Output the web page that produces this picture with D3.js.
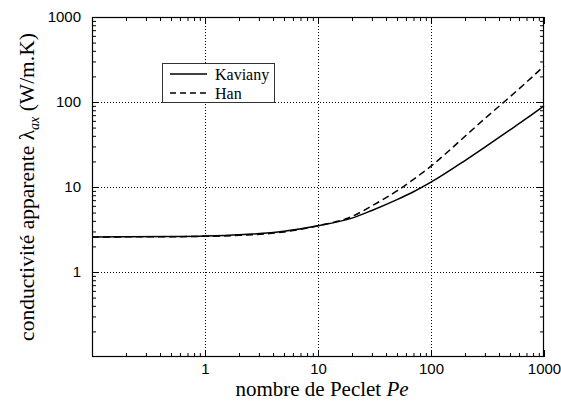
<!DOCTYPE html>
<html><head><meta charset="utf-8">
<script src="https://cdn.jsdelivr.net/npm/d3@7"></script>
<style>body{margin:0;background:#fff}svg{display:block}</style>
</head><body><svg id="c" width="561" height="403"></svg>
<script>
const peclet   = [0.1, 0.2, 0.5, 1, 2, 5, 10, 20, 30, 50, 70, 100, 200, 300, 500, 700, 1000];
const kaviany  = [2.58, 2.59, 2.61, 2.65, 2.74, 3.02, 3.5, 4.3, 5.3, 7.1, 8.8, 11.4, 20.5, 29.5, 47, 64, 90];
const han      = [2.58, 2.59, 2.60, 2.63, 2.70, 2.96, 3.5, 4.5, 6.0, 9.0, 12.3, 17.6, 39.5, 64, 115, 171, 265];
const majorTicks = [1, 10, 100, 1000];
const xLabel = "nombre de Peclet ";
const xLabelItalic = "Pe";
const legendNames = ["Kaviany", "Han"];

const svg = d3.select("#c");
const L = 92, R = 544, T = 17, B = 357;
const x = d3.scaleLog().domain([0.1, 1000]).range([L, R]);
const y = d3.scaleLog().domain([0.1, 1000]).range([B, T]);

const minors = [];
for (let d = 0.1; d < 1000; d *= 10) for (let k = 2; k <= 9; k++) minors.push(+(d * k).toPrecision(3));

// grid
const g = svg.append("g");
[1, 10, 100].forEach(v => {
  g.append("line").attr("x1", Math.round(x(v)) + 0.5).attr("x2", Math.round(x(v)) + 0.5).attr("y1", T).attr("y2", B)
    .attr("stroke", "#000").attr("stroke-width", 1).attr("stroke-dasharray", "1,2");
  g.append("line").attr("y1", Math.round(y(v)) + 0.5).attr("y2", Math.round(y(v)) + 0.5).attr("x1", L).attr("x2", R)
    .attr("stroke", "#000").attr("stroke-width", 1).attr("stroke-dasharray", "1,2");
});

function styleAxis(sel) {
  sel.select(".domain").remove();
  sel.selectAll("line").attr("stroke", "#000").attr("stroke-width", 1);
  sel.selectAll("text").attr("font-family", "Liberation Sans, Arial, sans-serif").attr("font-size", 15).attr("fill", "#000");
}
// bottom
svg.append("g").attr("transform", `translate(0,${B})`)
  .call(d3.axisBottom(x).tickValues(majorTicks).tickSizeInner(-7).tickSizeOuter(0).tickPadding(6.5).tickFormat(d3.format("d")))
  .call(styleAxis);
svg.append("g").attr("transform", `translate(0,${B})`)
  .call(d3.axisBottom(x).tickValues(minors).tickSizeInner(-4).tickSizeOuter(0).tickFormat(""))
  .call(styleAxis);
// top
svg.append("g").attr("transform", `translate(0,${T})`)
  .call(d3.axisTop(x).tickValues(majorTicks).tickSizeInner(-7).tickSizeOuter(0).tickFormat(""))
  .call(styleAxis);
svg.append("g").attr("transform", `translate(0,${T})`)
  .call(d3.axisTop(x).tickValues(minors).tickSizeInner(-4).tickSizeOuter(0).tickFormat(""))
  .call(styleAxis);
// left
svg.append("g").attr("transform", `translate(${L},0)`)
  .call(d3.axisLeft(y).tickValues(majorTicks).tickSizeInner(-7).tickSizeOuter(0).tickPadding(11).tickFormat(d3.format("d")))
  .call(styleAxis);
svg.append("g").attr("transform", `translate(${L},0)`)
  .call(d3.axisLeft(y).tickValues(minors).tickSizeInner(-4).tickSizeOuter(0).tickFormat(""))
  .call(styleAxis);
// right
svg.append("g").attr("transform", `translate(${R},0)`)
  .call(d3.axisRight(y).tickValues(majorTicks).tickSizeInner(-7).tickSizeOuter(0).tickFormat(""))
  .call(styleAxis);
svg.append("g").attr("transform", `translate(${R},0)`)
  .call(d3.axisRight(y).tickValues(minors).tickSizeInner(-4).tickSizeOuter(0).tickFormat(""))
  .call(styleAxis);

// frame
svg.append("rect").attr("x", L + 0.5).attr("y", T + 0.5).attr("width", R - L - 1).attr("height", B - T - 1)
  .attr("fill", "none").attr("stroke", "#000").attr("stroke-width", 1.2);

// curves
const line = d3.line().x(d => x(d[0])).y(d => y(d[1])).curve(d3.curveMonotoneX);
const kData = peclet.map((p, i) => [p, kaviany[i]]);
const hData = peclet.map((p, i) => [p, han[i]]);
svg.append("path").attr("d", line(hData)).attr("fill", "none").attr("stroke", "#000").attr("stroke-width", 1.5).attr("stroke-dasharray", "7,4");
svg.append("path").attr("d", line(kData)).attr("fill", "none").attr("stroke", "#000").attr("stroke-width", 1.5);

// legend
const lg = svg.append("g");
lg.append("rect").attr("x", 162.5).attr("y", 63.5).attr("width", 112).attr("height", 39)
  .attr("fill", "#fff").attr("stroke", "#333").attr("stroke-width", 1);
lg.append("line").attr("x1", 170).attr("x2", 207).attr("y1", 74).attr("y2", 74).attr("stroke", "#000").attr("stroke-width", 1.5);
lg.append("line").attr("x1", 170).attr("x2", 208).attr("y1", 93).attr("y2", 93).attr("stroke", "#000").attr("stroke-width", 1.5).attr("stroke-dasharray", "6,4");
lg.append("text").attr("x", 215).attr("y", 79.5).text(legendNames[0])
  .attr("font-family", "Liberation Serif, Times New Roman, serif").attr("font-size", 16);
lg.append("text").attr("x", 215).attr("y", 98.5).text(legendNames[1])
  .attr("font-family", "Liberation Serif, Times New Roman, serif").attr("font-size", 16);

// axis titles
const xt = svg.append("text").attr("x", (L + R) / 2 + 4).attr("y", 396).attr("text-anchor", "middle")
  .attr("font-family", "Liberation Serif, Times New Roman, serif").attr("font-size", 21);
xt.append("tspan").text(xLabel);
xt.append("tspan").attr("font-style", "italic").text(xLabelItalic);

const yt = svg.append("text").attr("transform", `translate(34,${(T + B) / 2}) rotate(-90)`).attr("text-anchor", "middle")
  .attr("font-family", "Liberation Serif, Times New Roman, serif").attr("font-size", 21.5);
yt.append("tspan").text("conductivité apparente λ");
yt.append("tspan").attr("font-style", "italic").attr("font-size", 14).attr("dy", 5).text("ax");
yt.append("tspan").attr("dy", -5).text(" (W/m.K)");
</script></body></html>
